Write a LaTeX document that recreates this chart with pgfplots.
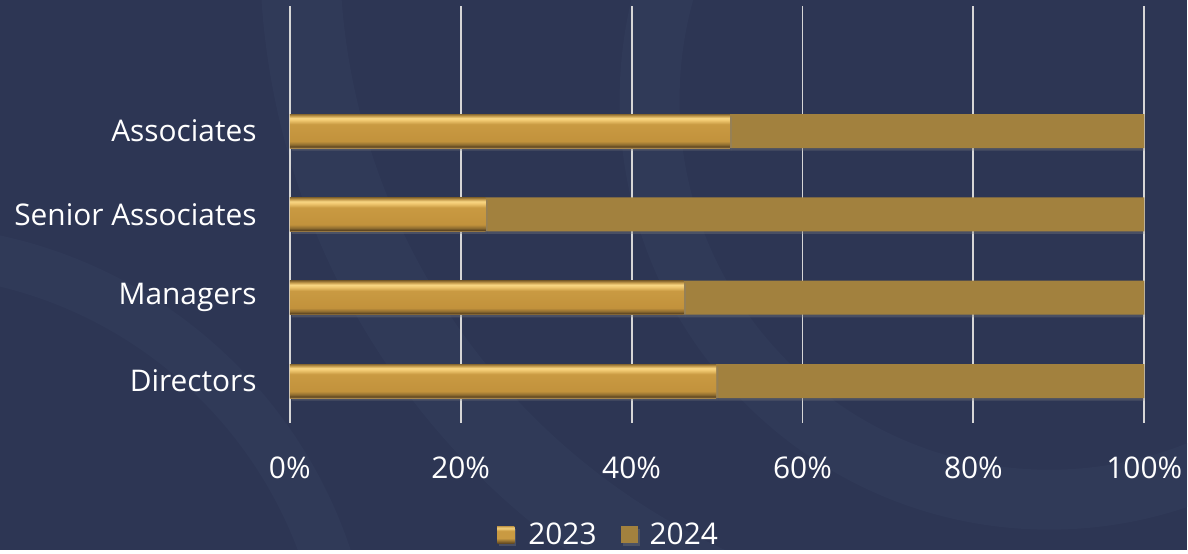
\documentclass[border=0pt]{standalone}
\usepackage{fontspec}
\setmainfont{Open Sans}
\usepackage{pgfplots}
\pgfplotsset{compat=1.18}
\usetikzlibrary{shadows}
\definecolor{bg}{HTML}{2D3654}
\definecolor{bgl}{HTML}{35405F}
\definecolor{gridc}{HTML}{D6D6D6}
\definecolor{c24}{HTML}{A2813E}
\definecolor{gA}{HTML}{A88850}
\definecolor{gB}{HTML}{5E4520}
\definecolor{gC}{HTML}{8F6D30}
\definecolor{gD}{HTML}{C2923C}
\definecolor{gE}{HTML}{C99A42}
\definecolor{gF}{HTML}{F0C870}
\definecolor{gG}{HTML}{F8D683}
\definecolor{gH}{HTML}{C9A050}
\definecolor{gI}{HTML}{8A6A30}
\pgfdeclareverticalshading{goldbevel}{100bp}{color(0bp)=(gA); color(25bp)=(gA); color(27bp)=(gB); color(30bp)=(gC); color(35bp)=(gD); color(60bp)=(gE); color(66bp)=(gF); color(69bp)=(gG); color(72bp)=(gH); color(75bp)=(gI); color(100bp)=(gI)}
\pgfdeclareverticalshading{legbevel}{100bp}{color(0bp)=(gB); color(25bp)=(gB); color(32bp)=(gC); color(40bp)=(gE); color(62bp)=(gE); color(70bp)=(gG); color(75bp)=(gH); color(100bp)=(gH)}
\pgfplotsset{
  common/.style={
    at={(5.8cm,2.54cm)}, anchor=south west,
    scale only axis, width=17.1cm, height=8.34cm,
    bar width=0.68cm,
    xmin=0, xmax=100, ymin=-0.5, ymax=4.5,
  },
  shd/.style={drop shadow={shadow xshift=1.2pt, shadow yshift=-1.5pt, opacity=0.35}},
}
\begin{document}
\begin{tikzpicture}
\fill[bg] (0,0) rectangle (23.76cm,11cm);
\begin{scope}
\clip (0,0) rectangle (23.76cm,11cm);
\draw[bgl, line width=1.6cm, opacity=0.45] (20cm,12cm) circle (14cm);
\draw[bgl, line width=1.2cm, opacity=0.4] (21cm,9cm) circle (8cm);
\draw[bgl, line width=1.0cm, opacity=0.4] (-2cm,-3cm) circle (9cm);
\end{scope}
\begin{axis}[
  common,
  xbar stacked,
  ytick={0,1,2,3},
  yticklabels={Directors,Managers,Senior Associates,Associates},
  xtick={0,20,40,60,80,100},
  xticklabel={\pgfmathprintnumber{\tick}\%},
  xmajorgrids, grid style={color=gridc, line width=1.1pt},
  axis line style={draw=none},
  major tick length=0pt,
  tick label style={color=white, font=\fontsize{17}{20}\selectfont},
  /pgf/number format/assume math mode=true,
  xticklabel style={yshift=-0.55cm},
  yticklabel style={xshift=-0.54cm},
  legend style={at={(0.374,-0.269)}, anchor=center, legend columns=2, draw=none, fill=none, text=white, font=\fontsize{17}{20}\selectfont, /tikz/every even column/.append style={column sep=0.42cm}},
]
\addplot[draw=none, fill=gE, shd,
  legend image code/.code={\path[shading=legbevel] (0cm,-0.17cm) rectangle (0.34cm,0.17cm); \path (0.55cm,0);}]
  coordinates {(49.9,0) (46.1,1) (22.9,2) (51.5,3)};
\addplot[draw=none, fill=c24, shd,
  legend image code/.code={\fill[c24] (0cm,-0.17cm) rectangle (0.34cm,0.17cm); \path (0.5cm,0);}]
  coordinates {(50.1,0) (53.9,1) (77.1,2) (48.5,3)};
\legend{2023,2024}
\end{axis}
\begin{axis}[common, hide axis, xbar]
\addplot[bar shift=0pt, draw=none, shading=goldbevel] coordinates {(49.9,0)};
\addplot[bar shift=0pt, draw=none, shading=goldbevel] coordinates {(46.1,1)};
\addplot[bar shift=0pt, draw=none, shading=goldbevel] coordinates {(22.9,2)};
\addplot[bar shift=0pt, draw=none, shading=goldbevel] coordinates {(51.5,3)};
\end{axis}
\end{tikzpicture}
\end{document}
